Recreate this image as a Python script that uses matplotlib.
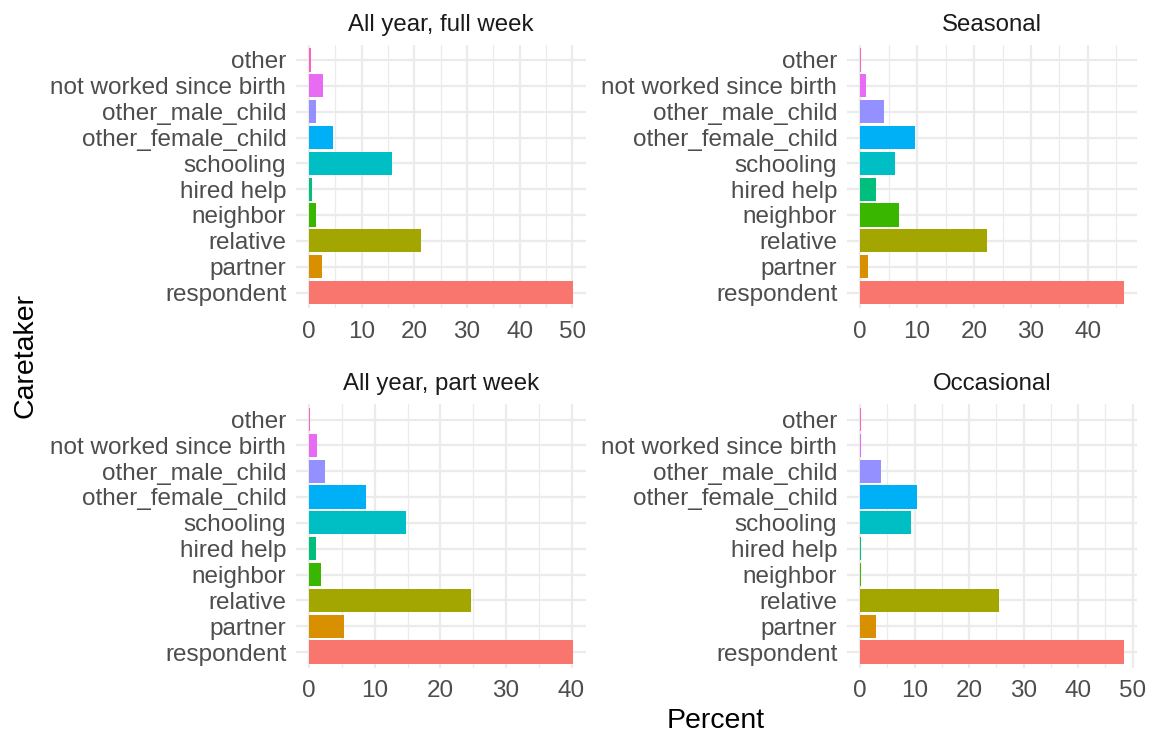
import matplotlib
matplotlib.use("Agg")
import matplotlib.pyplot as plt
from matplotlib.ticker import MultipleLocator

plt.rcParams['font.family'] = ['Liberation Sans', 'DejaVu Sans']

categories = ["respondent", "partner", "relative", "neighbor", "hired help",
              "schooling", "other_female_child", "other_male_child",
              "not worked since birth", "other"]
colors = ["#F8766D", "#D89000", "#A3A500", "#39B600", "#00BF7D",
          "#00BFC4", "#00B0F6", "#9590FF", "#E76BF3", "#FF62BC"]

panel_titles = ["All year, full week", "Seasonal", "All year, part week", "Occasional"]

full_week = [50.1, 2.5, 21.3, 1.3, 0.6, 15.8, 4.6, 1.3, 2.7, 0.4]
seasonal = [46.3, 1.4, 22.3, 6.8, 2.7, 6.1, 9.6, 4.2, 1.05, 0.1]
part_week = [40.2, 5.3, 24.7, 1.8, 1.07, 14.8, 8.7, 2.4, 1.2, 0.15]
occasional = [48.4, 2.9, 25.5, 0.2, 0.2, 9.4, 10.5, 3.85, 0.2, 0.2]

series = [full_week, seasonal, part_week, occasional]

W, H = 1149, 734
fig = plt.figure(figsize=(W / 100, H / 100), dpi=100)

# panel boxes in pixels: left, top, right, bottom
boxes = [(296, 44.5, 586, 308), (847, 44.5, 1137, 308),
         (296, 404, 586, 667.5), (847, 404, 1137, 667.5)]

grid_col = "#EBEBEB"
for title, vals, (l, t, r, b) in zip(panel_titles, series, boxes):
    ax = fig.add_axes([l / W, 1 - b / H, (r - l) / W, (b - t) / H])
    ypos = list(range(len(categories)))
    ax.barh(ypos, vals, height=0.9, color=colors, zorder=3)
    vmax = max(vals)
    ax.set_xlim(-0.05 * vmax, 1.05 * vmax)
    ax.set_ylim(-0.6, len(categories) - 0.4)
    ax.set_yticks(ypos)
    ax.set_yticklabels(categories)
    ax.xaxis.set_major_locator(MultipleLocator(10))
    ax.xaxis.set_minor_locator(MultipleLocator(5))
    ax.grid(which="major", axis="both", color=grid_col, linewidth=1.6, zorder=0)
    ax.grid(which="minor", axis="x", color=grid_col, linewidth=0.9, zorder=0)
    ax.set_axisbelow(True)
    for s in ax.spines.values():
        s.set_visible(False)
    ax.tick_params(axis="both", which="both", length=0, labelsize=17.5,
                   labelcolor="#4D4D4D")
    ax.tick_params(axis="x", pad=9)
    ax.tick_params(axis="y", pad=7)
    ax.set_title(title, fontsize=17.3, color="#1A1A1A", pad=10)

fig.text(716 / W, 1 - 721 / H, "Percent", fontsize=20.5, ha="center", va="center")
fig.text(25 / W, 1 - 355 / H, "Caretaker", fontsize=20.5, ha="center", va="center",
         rotation=90)

fig.savefig("out.png", dpi=100, facecolor="white")
